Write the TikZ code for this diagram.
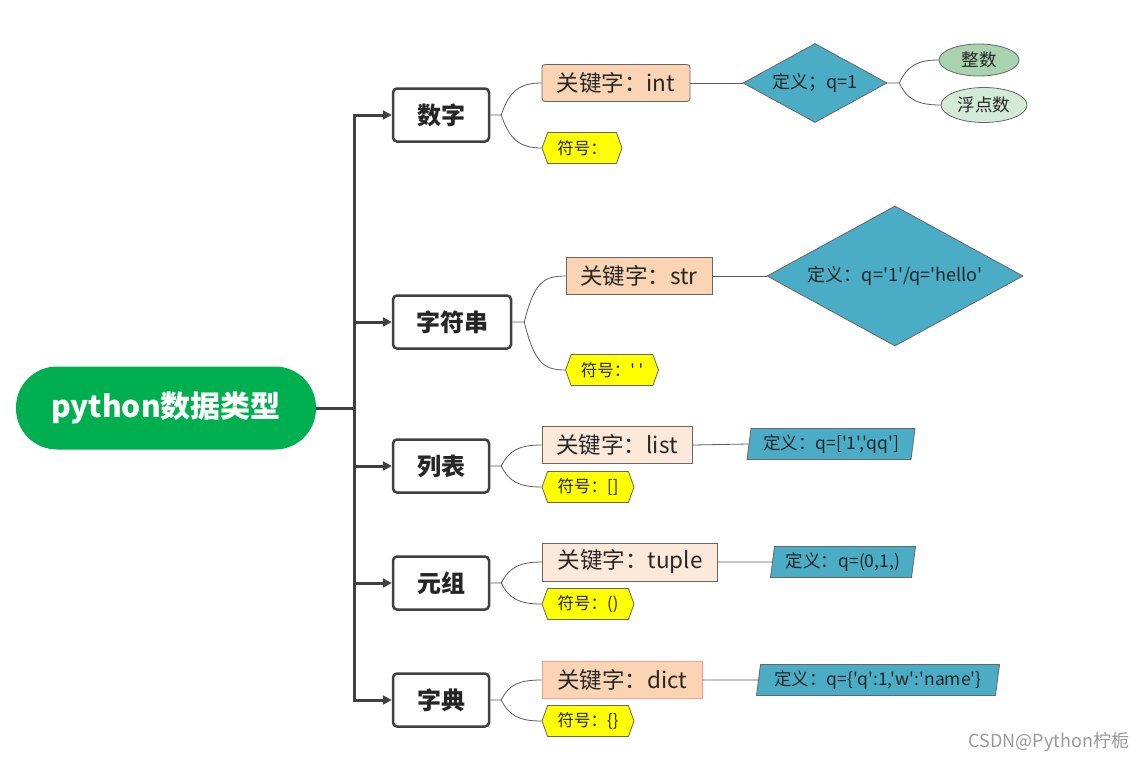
\documentclass[tikz,border=0pt]{standalone}
\usepackage{fontspec}
\newfontfamily\cjkfont{Noto Sans CJK SC}
\usetikzlibrary{shapes.geometric, shapes.symbols, arrows.meta, positioning}

\definecolor{rootgreen}{HTML}{00B050}
\definecolor{linegray}{HTML}{404040}
\definecolor{peach}{HTML}{FBD4B4}
\definecolor{lightpeach}{HTML}{FDE9D9}
\definecolor{defblue}{HTML}{4BACC6}
\definecolor{signyellow}{HTML}{FFFF00}
\definecolor{intgreen}{HTML}{A9D3AE}
\definecolor{floatgreen}{HTML}{D3EBD6}

\begin{document}
\begin{tikzpicture}[
            x=1pt, y=-1pt,
            font=\cjkfont,
            % styles
            root/.style={rectangle, rounded corners=41pt, fill=rootgreen, text=white, minimum width=300pt, minimum height=83pt, font=\cjkfont\bfseries\fontsize{30}{34}\selectfont},
            typebox/.style={rectangle, rounded corners=4pt, draw=linegray, line width=2.5pt, fill=white, text=black!85, minimum width=96pt, minimum height=53pt, font=\cjkfont\bfseries\fontsize{24}{27}\selectfont},
            keybox/.style={rectangle, draw=linegray!80, line width=0.8pt, fill=peach, text=black!85, minimum height=37pt, inner sep=0pt, font=\cjkfont\fontsize{22.5}{26}\selectfont},
            signbox/.style={signal, signal to=east and west, signal pointer angle=140, draw=linegray!80, line width=0.8pt, fill=signyellow, text=black!85, minimum height=31pt, inner sep=0pt, font=\cjkfont\fontsize{16.5}{19}\selectfont},
            defdiamond/.style={diamond, aspect=1.83, draw=linegray!80, line width=0.8pt, fill=defblue, text=black!85, inner sep=0pt, font=\cjkfont\fontsize{18}{21}\selectfont},
            defslant/.style={trapezium, trapezium left angle=78, trapezium right angle=102, trapezium stretches body, draw=linegray!80, line width=0.8pt, fill=defblue, text=black!85, minimum height=31pt, inner sep=0pt, font=\cjkfont\fontsize{17.5}{20}\selectfont},
            subellipse/.style={ellipse, draw=linegray!80, line width=0.8pt, inner sep=0pt, text=black!85, font=\cjkfont\fontsize{17.5}{20}\selectfont},
            trunk/.style={draw=linegray, line width=3pt, -{Triangle[length=9pt, width=9pt]}},
            link/.style={draw=linegray!85, line width=0.8pt}
        ]

        \path[fill=white, use as bounding box] (0,0) rectangle (1145,763);

        % root and types
        \node (root)  [root] at (166,408) {python数据类型};
        \coordinate (fork) at (354,408);
        \node (type1) [typebox] at (441,115) {数字};
        \node (type2) [typebox, minimum width=118pt] at (452,322) {字符串};
        \node (type3) [typebox] at (441,466) {列表};
        \node (type4) [typebox] at (441,583) {元组};
        \node (type5) [typebox] at (441,700) {字典};

        % keywords
        \node (key1) [keybox, rounded corners=3pt, minimum width=148pt] at (616,83) {关键字：int};
        \node (key2) [keybox, minimum width=146pt] at (639,276) {关键字：str};
        \node (key3) [keybox, fill=lightpeach, minimum width=150pt] at (617,445) {关键字：list};
        \node (key4) [keybox, fill=lightpeach, minimum width=175pt, minimum height=38pt] at (630,562) {关键字：tuple};
        \node (key5) [keybox, draw=red!40, minimum width=160pt] at (622,680) {关键字：dict};

        % signs
        \node (sign1) [signbox, minimum width=80pt] at (582,148) {符号：};
        \node (sign2) [signbox, minimum width=93pt] at (612,370) {符号：' '};
        \node (sign3) [signbox, minimum width=92pt] at (588,487) {符号：[]};
        \node (sign4) [signbox, minimum width=92pt] at (588,604) {符号：()};
        \node (sign5) [signbox, minimum width=92pt] at (588,721) {符号：\{\}};

        % definitions
        \node (def1) [defdiamond, minimum width=144pt, minimum height=79pt] at (815,83) {定义；q=1};
        \node (def2) [defdiamond, minimum width=256pt, minimum height=140pt] at (895,276) {定义：q='1'/q='hello'};
        \node (def3) [defslant, minimum width=168pt] at (831,444) {定义：q=['1','qq']};
        \node (def4) [defslant, minimum width=145pt] at (843,562) {定义：q=(0,1,)};
        \node (def5) [defslant, minimum width=243pt] at (878,680) {定义：q=\{'q':1,'w':'name'\}};

        \node (sub1) [subellipse, fill=intgreen, minimum width=80pt, minimum height=32pt] at (979,60) {整数};
        \node (sub2) [subellipse, fill=floatgreen, minimum width=86pt, minimum height=35pt] at (984,105) {浮点数};

        \node (mark) [text=gray!80, font=\cjkfont\fontsize{18}{21}\selectfont] at (1049,742) {CSDN@Python柠栀};

        % trunk
        \draw [trunk] (root.east) -- (fork) |- (type1.west);
        \draw [trunk] (root.east) -- (fork) |- (type2.west);
        \draw [trunk] (root.east) -- (fork) |- (type3.west);
        \draw [trunk] (root.east) -- (fork) |- (type4.west);
        \draw [trunk] (root.east) -- (fork) |- (type5.west);

        % type to keyword and sign
        \draw [link] (type1.east) -- ++(11,0) coordinate (s1) .. controls +(8,-24) and +(-22,0) .. (key1.west);
        \draw [link] (s1) .. controls +(8,24) and +(-22,0) .. (sign1.west);
        \draw [link] (type2.east) -- ++(12,0) coordinate (s2) .. controls +(10,-40) and +(-22,0) .. (key2.west);
        \draw [link] (s2) .. controls +(10,40) and +(-22,0) .. (sign2.west);
        \draw [link] (type3.east) -- ++(11,0) coordinate (s3) .. controls +(8,-16) and +(-22,0) .. (key3.west);
        \draw [link] (s3) .. controls +(8,16) and +(-22,0) .. (sign3.west);
        \draw [link] (type4.east) -- ++(11,0) coordinate (s4) .. controls +(8,-16) and +(-22,0) .. (key4.west);
        \draw [link] (s4) .. controls +(8,16) and +(-22,0) .. (sign4.west);
        \draw [link] (type5.east) -- ++(11,0) coordinate (s5) .. controls +(8,-16) and +(-22,0) .. (key5.west);
        \draw [link] (s5) .. controls +(8,16) and +(-22,0) .. (sign5.west);

        % keyword to definition
        \draw [link] (key1.east) -- (def1.west);
        \draw [link] (key2.east) -- (def2.west);
        \draw [link] (key3.east) -- (def3.west);
        \draw [link] (key4.east) -- (def4.west);
        \draw [link] (key5.east) -- (def5.west);

        % number kinds
        \draw [link] (def1.east) -- ++(12,0) coordinate (s6) .. controls +(8,-18) and +(-20,0) .. (sub1.west);
        \draw [link] (s6) .. controls +(8,18) and +(-20,0) .. (sub2.west);

\end{tikzpicture}
\end{document}
